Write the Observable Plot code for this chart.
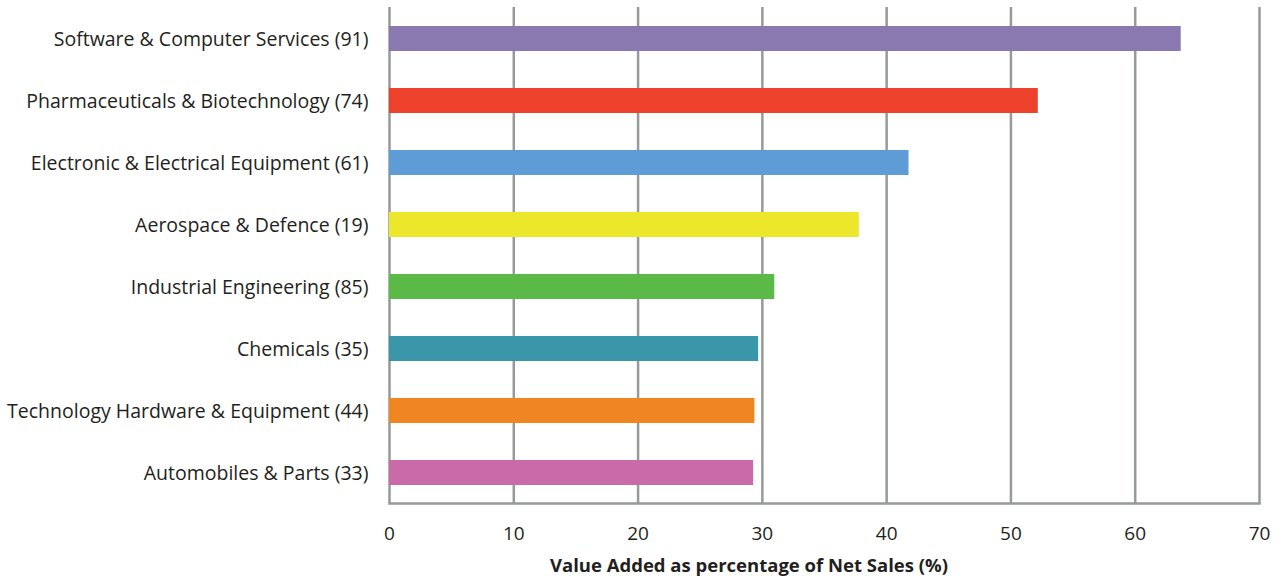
<!DOCTYPE html>
<html>
<head>
<meta charset="utf-8">
<script src="https://cdn.jsdelivr.net/npm/d3@7"></script>
<script src="https://cdn.jsdelivr.net/npm/@observablehq/plot@0.6"></script>
<style>
  html, body { margin: 0; padding: 0; background: #fff; overflow: hidden; }
  #chart { position: relative; width: 1283px; height: 579px; font-family: "Open Sans", sans-serif; }
  #xtitle {
    position: absolute; left: 449px; width: 600px; top: 552px;
    text-align: center; font-weight: bold; font-size: 18.5px; color: #231f20;
  }
</style>
</head>
<body>
<div id="chart"></div>
<script>
// Industry sectors (number of companies in brackets), top to bottom
const sectors = [
  "Software & Computer Services (91)",
  "Pharmaceuticals & Biotechnology (74)",
  "Electronic & Electrical Equipment (61)",
  "Aerospace & Defence (19)",
  "Industrial Engineering (85)",
  "Chemicals (35)",
  "Technology Hardware & Equipment (44)",
  "Automobiles & Parts (33)"
];
// Value added as a percentage of net sales
const valueAdded = [63.7, 52.2, 41.8, 37.8, 31.0, 29.7, 29.4, 29.3];
const barColors = ["#8a78b1", "#ee412b", "#5d9cd4", "#ece72a", "#5ab947", "#3a97a9", "#ef8622", "#c96aa9"];
const xTicks = [0, 10, 20, 30, 40, 50, 60, 70];
const xTitle = "Value Added as percentage of Net Sales (%)";

const rows = sectors.map((s, i) => ({sector: s, value: valueAdded[i], color: barColors[i]}));

const plot = Plot.plot({
  width: 1283,
  height: 545,
  marginLeft: 389,
  marginRight: 24,
  marginTop: 7,
  marginBottom: 42,
  style: {fontFamily: "'Open Sans', sans-serif", background: "#fff", color: "#231f20"},
  x: {domain: [0, 70], ticks: xTicks},
  y: {domain: sectors, paddingInner: 0.6, paddingOuter: 0.3},
  marks: [
    Plot.ruleX(xTicks, {stroke: "#979a9a", strokeWidth: 2.5}),
    Plot.frame({anchor: "bottom", stroke: "#979a9a", strokeWidth: 2.5}),
    Plot.barX(rows, {x: "value", y: "sector", fill: "color"}),
    Plot.axisX(xTicks, {tickSize: 0, tickPadding: 23, fontSize: 19, label: null, tickFormat: d => String(d)}),
    Plot.axisY({tickSize: 0, tickPadding: 21, fontSize: 19.5, dy: 1, label: null})
  ]
});
document.getElementById("chart").appendChild(plot);
const t = document.createElement("div");
t.id = "xtitle";
t.textContent = xTitle;
document.getElementById("chart").appendChild(t);
</script>
</body>
</html>
